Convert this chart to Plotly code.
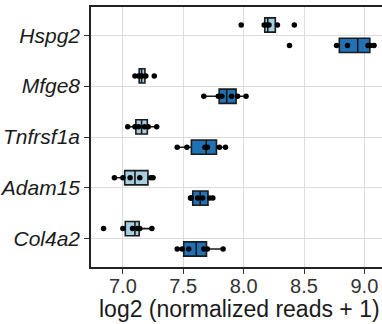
import numpy as np
import plotly.graph_objects as go

genes = ["Hspg2", "Mfge8", "Tnfrsf1a", "Adam15", "Col4a2"]

light_vals = {
    "Hspg2": [7.98, 8.17, 8.19, 8.21, 8.28, 8.42],
    "Mfge8": [7.10, 7.13, 7.15, 7.16, 7.19, 7.26],
    "Tnfrsf1a": [7.04, 7.10, 7.13, 7.18, 7.21, 7.28],
    "Adam15": [6.93, 7.00, 7.06, 7.14, 7.23, 7.25],
    "Col4a2": [6.84, 7.00, 7.08, 7.12, 7.14, 7.24],
}
dark_vals = {
    "Hspg2": [8.38, 8.77, 8.86, 9.03, 9.05, 9.08],
    "Mfge8": [7.67, 7.79, 7.82, 7.90, 7.95, 8.02],
    "Tnfrsf1a": [7.45, 7.53, 7.68, 7.70, 7.80, 7.85],
    "Adam15": [7.56, 7.565, 7.62, 7.66, 7.72, 7.745],
    "Col4a2": [7.45, 7.49, 7.545, 7.67, 7.70, 7.83],
}

x_ticks = [7.0, 7.5, 8.0, 8.5, 9.0]
x_tick_labels = ["7.0", "7.5", "8.0", "8.5", "9.0"]
x_title = "log2 (normalized reads + 1)"

light_color = "#a6cee3"
dark_color = "#2171b5"


def stats(d):
    q1s, meds, q3s, los, his = [], [], [], [], []
    for g in genes:
        a = np.array(d[g], dtype=float)
        q1, med, q3 = np.percentile(a, [25, 50, 75])
        iqr = q3 - q1
        lo = a[a >= q1 - 1.5 * iqr].min()
        hi = a[a <= q3 + 1.5 * iqr].max()
        q1s.append(q1); meds.append(med); q3s.append(q3); los.append(lo); his.append(hi)
    return q1s, meds, q3s, los, his


def flatten(d):
    xs, ys = [], []
    for g in genes:
        for v in d[g]:
            xs.append(v)
            ys.append(g)
    return xs, ys


fig = go.Figure()
groups = [("light", light_vals, light_color), ("dark", dark_vals, dark_color)]
for name, d, col in groups:
    q1, med, q3, lo, hi = stats(d)
    fig.add_trace(go.Box(
        y=genes, q1=q1, median=med, q3=q3, lowerfence=lo, upperfence=hi,
        orientation="h", name=name,
        offsetgroup=name, alignmentgroup="a",
        fillcolor=col,
        line=dict(color="#1a1a1a", width=1.6),
        boxpoints=False, whiskerwidth=0,
        showlegend=False, hoverinfo="skip",
    ))
for name, d, col in groups:
    xs, ys = flatten(d)
    fig.add_trace(go.Box(
        x=xs, y=ys, orientation="h", name=name + "_pts",
        offsetgroup=name, alignmentgroup="a",
        fillcolor="rgba(0,0,0,0)",
        line=dict(color="rgba(0,0,0,0)", width=0),
        boxpoints="all", jitter=0, pointpos=0,
        marker=dict(color="black", size=5.5, line=dict(width=0)),
        whiskerwidth=0,
        showlegend=False, hoverinfo="skip",
    ))

fig.add_annotation(
    text=x_title, xref="paper", yref="paper", x=0.511, y=-0.162,
    xanchor="center", yanchor="middle", showarrow=False,
    font=dict(size=23, color="#1a1a1a"),
)

fig.update_layout(
    width=382, height=324,
    margin=dict(l=91, r=0, t=7, b=57),
    paper_bgcolor="white", plot_bgcolor="white",
    boxmode="group", boxgap=0.2, boxgroupgap=0.3,
    font=dict(family="Liberation Sans, Arial, sans-serif", color="black"),
    xaxis=dict(
        range=[6.736, 9.146],
        tickvals=x_ticks, ticktext=x_tick_labels,
        tickfont=dict(size=20, color="#333333"),
        ticks="outside", ticklen=5, tickcolor="#333333", tickwidth=1.2,
        ticklabelstandoff=-5,
        showline=True, linecolor="#222222", linewidth=1.5, mirror=True,
        showgrid=True, gridcolor="#dcdcdc", gridwidth=1,
        zeroline=False, automargin=False,
    ),
    yaxis=dict(
        categoryorder="array", categoryarray=genes,
        autorange="reversed",
        tickfont=dict(size=21, color="#1a1a1a", style="italic"),
        ticks="outside", ticklen=5, tickcolor="#333333", tickwidth=1.2,
        showline=True, linecolor="#222222", linewidth=1.5, mirror=False,
        showgrid=True, gridcolor="#dcdcdc", gridwidth=1,
        zeroline=False, automargin=False,
    ),
)

fig.write_html("out.html", config={"displayModeBar": False},
               post_script="document.body.style.margin='0';")
